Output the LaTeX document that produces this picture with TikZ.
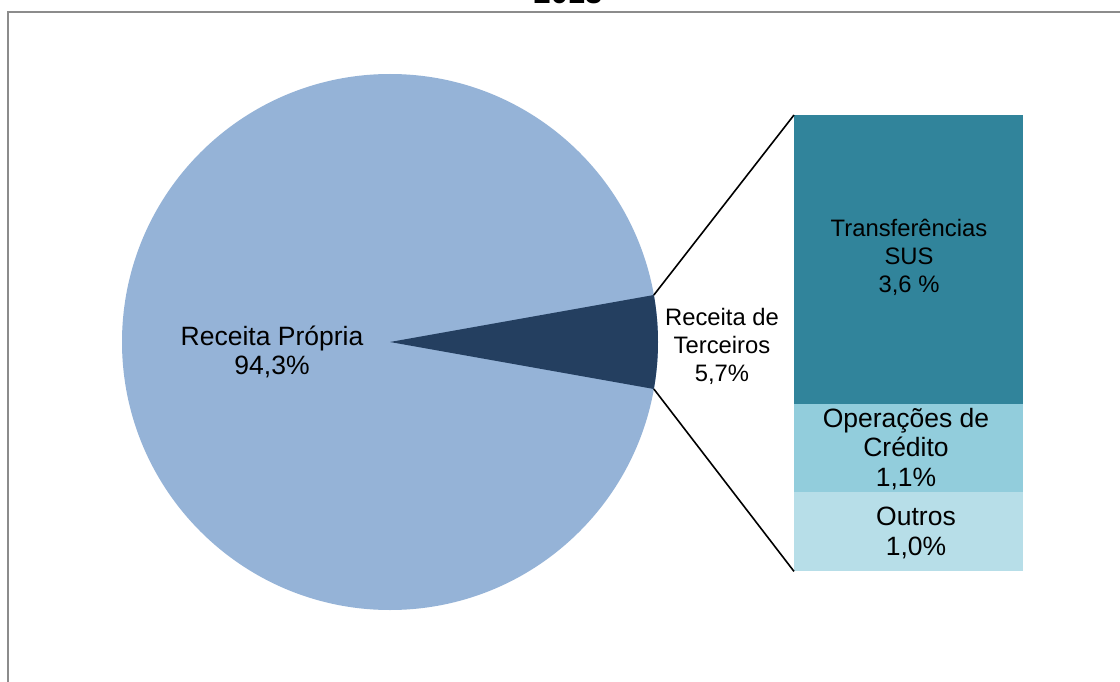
\documentclass[tikz,border=0pt]{standalone}
\usepackage{fontspec}
\setmainfont{Liberation Sans}
\definecolor{pielight}{HTML}{95B3D7}
\definecolor{piedark}{HTML}{243F60}
\definecolor{sus}{HTML}{31849B}
\definecolor{cred}{HTML}{92CDDC}
\definecolor{outr}{HTML}{B7DEE8}
\definecolor{frame}{HTML}{8C8C8C}
\tikzset{
  big/.style={font=\fontsize{26.5}{29.5}\selectfont, align=center, inner sep=0pt},
  small/.style={font=\fontsize{23.8}{28}\selectfont, align=center, inner sep=0pt},
  seg/.style={rectangle, draw=none, inner sep=0pt, minimum width=229pt, anchor=north west},
  link/.style={draw=black, line width=1.6pt},
}
\begin{document}
\begin{tikzpicture}[x=1pt,y=-1pt]
\useasboundingbox (0,0) rectangle (1120,682);
\fill[white] (0,0) rectangle (1120,682);
\draw[frame, line width=2pt] (8,700) -- (8,12) -- (1140,12);
\node[font=\bfseries\fontsize{31}{31}\selectfont, anchor=base] (title) at (568,4) {2013};
% pie
\coordinate (c) at (390,342);
\fill[pielight] (c) circle[radius=268];
\fill[piedark] (c) -- ++(-10.1:268) coordinate (pu) arc[start angle=-10.1, end angle=10.1, radius=268] coordinate (pl) -- cycle;
% bar
\node[seg, fill=sus, minimum height=289pt] (sus) at (794,115) {};
\node[seg, fill=cred, minimum height=88pt] (cred) at (794,404) {};
\node[seg, fill=outr, minimum height=79pt] (outr) at (794,492) {};
% connectors
\draw[link] (pu) -- (sus.north west);
\draw[link] (pl) -- (outr.south west);
% labels
\node[big] (lprop) at (272,352) {Receita Própria\\94,3\%};
\node[small] (lterc) at (722,346) {Receita de\\Terceiros\\5,7\%};
\node[small] (lsus) at (909,257) {Transferências\\SUS\\3,6 \%};
\node[big] (lcred) at (906,449) {Operações de\\Crédito\\1,1\%};
\node[big] (lout) at (916,533) {Outros\\1,0\%};
\end{tikzpicture}
\end{document}
